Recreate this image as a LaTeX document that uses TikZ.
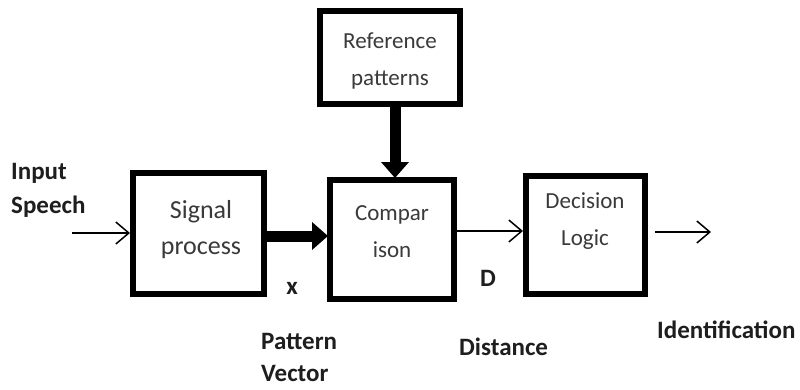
\documentclass[tikz,border=0pt]{standalone}
\usepackage{fontspec}
\setmainfont{Carlito}
\usetikzlibrary{arrows.meta}
\definecolor{intext}{HTML}{3A3A3A}
\definecolor{lbltext}{HTML}{1E1E1E}
\tikzset{
  box/.style={draw=black, line width=6pt, fill=white, inner sep=0pt},
  intxt/.style={text=intext, font=\fontsize{23}{37}\selectfont, align=center, inner sep=0pt},
  lbl/.style={text=lbltext, font=\fontsize{25}{34}\selectfont\bfseries, align=left, inner sep=0pt},
  thin/.style={line width=1.5pt, -{Straight Barb[length=13pt,width=22pt,line width=1.5pt]}},
  thick/.style={line width=11pt, -{Triangle[length=16pt,width=27pt]}, shorten >=-1pt}
}
\begin{document}
\begin{tikzpicture}[x=1pt,y=-1pt]
\useasboundingbox[fill=white] (0,0) rectangle (800,389);
% boxes
\node[box, minimum width=140pt, minimum height=93pt] (ref) at (390,57.5) {};
\node[box, minimum width=124pt, minimum height=119pt] (comp) at (392,239.5) {};
\node[box, minimum width=131pt, minimum height=121pt] (sig) at (198.5,233.5) {};
\node[box, minimum width=119pt, minimum height=118pt] (dec) at (585.5,235) {};
% box texts
\node[intxt] (reft) at (390,61) {Reference\\patterns};
\node[intxt, font=\fontsize{26}{36}\selectfont] (sigt) at (201,230) {Signal\\process};
\node[intxt] (compt) at (392,232) {Compar\\ison};
\node[intxt] (dect) at (585,221) {Decision\\Logic};
% labels
\node[lbl, anchor=west] (inp) at (11,190) {Input\\Speech};
\node[lbl] (xl) at (292,288) {x};
\node[lbl, anchor=west, font=\fontsize{25}{32}\selectfont\bfseries] (pv) at (261,357) {Pattern\\Vector};
\node[lbl] (dl) at (488,278) {D};
\node[lbl, anchor=west] (dist) at (459,347) {Distance};
\node[lbl, anchor=west] (ident) at (657,330) {Identification};
% connectors
\coordinate (inS) at (72,233);
\draw[thin] (inS) -- (sig.west |- inS);
\draw[thick] (sig.east |- 0,236) -- (comp.west |- 0,236);
\draw[thick] (ref.south -| 395,0) -- (comp.north -| 395,0);
\draw[thin] (comp.east |- 0,231) -- (dec.west |- 0,231);
\coordinate (outS) at (655,232);
\coordinate (outE) at (711,232);
\draw[thin] (outS) -- (outE);
\end{tikzpicture}
\end{document}
